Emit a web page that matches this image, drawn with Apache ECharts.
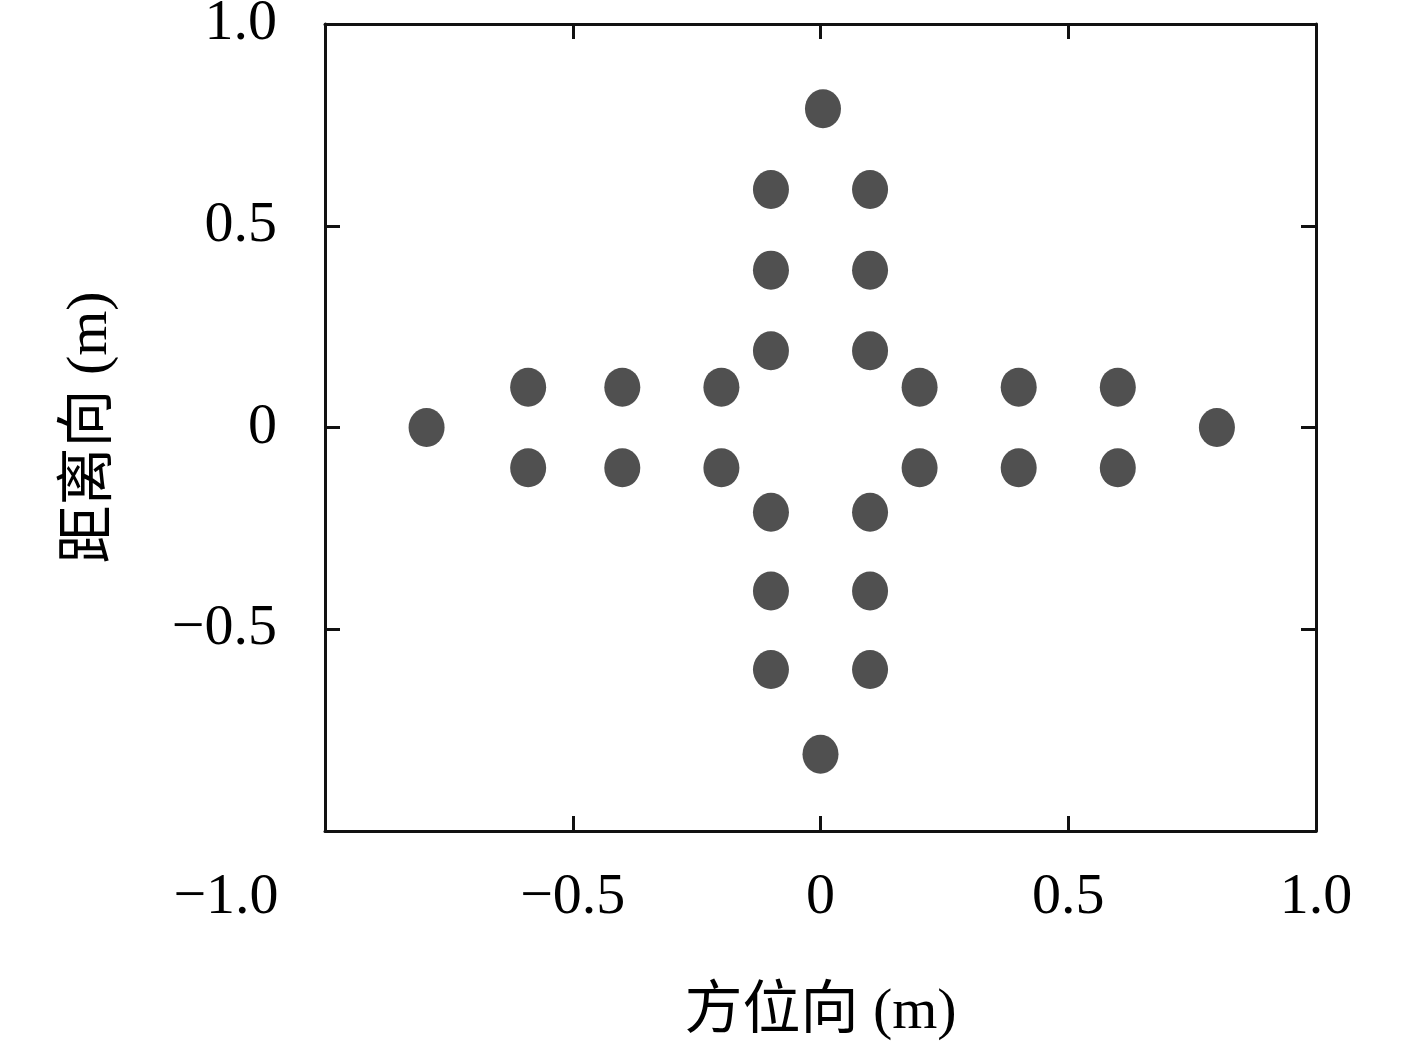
<!DOCTYPE html>
<html>
<head>
<meta charset="utf-8">
<script src="https://cdn.jsdelivr.net/npm/echarts@6/dist/echarts.min.js"></script>
<style>
  html, body { margin: 0; padding: 0; background: #fff; }
  #chart { width: 1417px; height: 1051px; }
</style>
</head>
<body>
<div id="chart"></div>
<script>
// 点阵位置 (方位向 x, 距离向 y), 单位 m
var azimuth = [0.005, -0.10, 0.10, -0.10, 0.10, -0.10, 0.10,
  -0.59, -0.40, -0.20, 0.20, 0.40, 0.60,
  -0.795, 0.80,
  -0.59, -0.40, -0.20, 0.20, 0.40, 0.60,
  -0.10, 0.10, -0.10, 0.10, -0.10, 0.10, 0.0];
var range = [0.79, 0.59, 0.59, 0.39, 0.39, 0.19, 0.19,
  0.10, 0.10, 0.10, 0.10, 0.10, 0.10,
  0.0, 0.0,
  -0.10, -0.10, -0.10, -0.10, -0.10, -0.10,
  -0.21, -0.21, -0.405, -0.405, -0.60, -0.60, -0.81];
var xTicks = [-1.0, -0.5, 0, 0.5, 1.0];
var yTicks = [-1.0, -0.5, 0, 0.5, 1.0];
var xName = '方位向 (m)';
var yName = '距离向 (m)';

var points = azimuth.map(function (x, i) { return [x, range[i]]; });

var FONT = "'Liberation Serif', 'Noto Sans CJK SC', serif";

function fmt(v) {
  if (Math.abs(v) < 1e-9) return '0';
  var s = Math.abs(v).toFixed(1);
  return (v < 0 ? '\u2212' : '') + s;
}

var tickStyle = { show: true, inside: true, length: 15, lineStyle: { color: '#111', width: 3 } };
var lineStyle = { show: true, onZero: false, lineStyle: { color: '#111', width: 3 } };

var chart = echarts.init(document.getElementById('chart'));
chart.setOption({
  animation: false,
  backgroundColor: '#fff',
  grid: { left: 325, top: 24, width: 991, height: 807, containLabel: false, outerBoundsMode: 'none' },
  xAxis: [{
    type: 'value', min: xTicks[0], max: xTicks[xTicks.length - 1], interval: 0.5,
    position: 'bottom',
    axisLine: lineStyle, axisTick: tickStyle, splitLine: { show: false },
    axisLabel: {
      margin: 38, fontFamily: FONT, fontSize: 58, color: '#000',
      formatter: function (v) {
        // -1.0 标签在原图中左移
        if (Math.abs(v + 1) < 1e-9) return '{shift|' + fmt(v) + '}';
        return fmt(v);
      },
      rich: { shift: { fontFamily: FONT, fontSize: 58, color: '#000', padding: [0, 198, 0, 0] } }
    },
    name: xName, nameLocation: 'middle', nameGap: 153,
    nameTextStyle: { fontFamily: FONT, fontSize: 58, color: '#000' }
  }, {
    type: 'value', min: xTicks[0], max: xTicks[xTicks.length - 1], interval: 0.5,
    position: 'top',
    axisLine: lineStyle, axisTick: tickStyle, axisLabel: { show: false }, splitLine: { show: false }
  }],
  yAxis: [{
    type: 'value', min: yTicks[0], max: yTicks[yTicks.length - 1], interval: 0.5,
    position: 'left',
    axisLine: lineStyle, axisTick: tickStyle, splitLine: { show: false },
    axisLabel: {
      margin: 48, fontFamily: FONT, fontSize: 58, color: '#000',
      formatter: function (v) { return Math.abs(v + 1) < 1e-9 ? '' : fmt(v); }
    },
    name: yName, nameLocation: 'middle', nameGap: 205, nameRotate: 90,
    nameTextStyle: { fontFamily: FONT, fontSize: 58, color: '#000' }
  }, {
    type: 'value', min: yTicks[0], max: yTicks[yTicks.length - 1], interval: 0.5,
    position: 'right',
    axisLine: lineStyle, axisTick: tickStyle, axisLabel: { show: false }, splitLine: { show: false }
  }],
  series: [{
    type: 'scatter',
    data: points,
    symbol: 'circle',
    symbolSize: [36, 39],
    itemStyle: { color: '#505050', opacity: 1 },
    z: 3
  }]
});
</script>
</body>
</html>
